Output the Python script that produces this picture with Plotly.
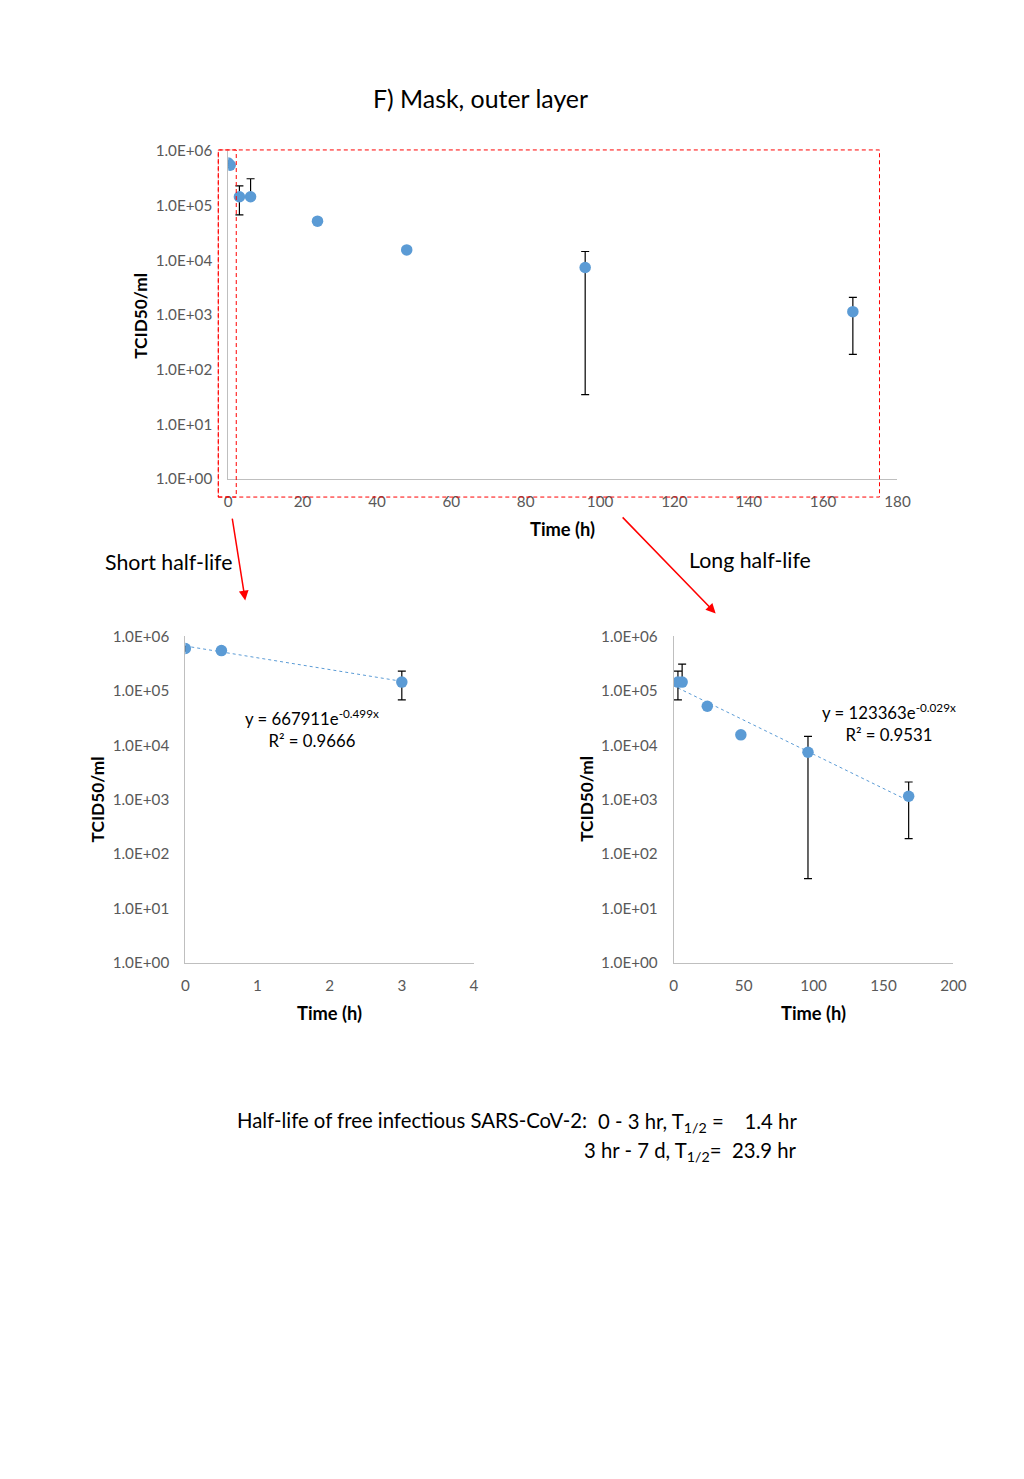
import numpy as np
import plotly.graph_objects as go

# figure size (page never scrolls) and the measured page->picture transform,
# so that every position below can be given in reference-picture pixels
PAD = 8
W, H = 990, 1400
S, OX, OY = 0.984, 3.6, 11.6

# data
time_all = [0, 0.5, 3, 6, 24, 48, 96, 168]
titer_all = [6.0e5, 5.5e5, 1.45e5, 1.45e5, 5.2e4, 1.55e4, 7.4e3, 1.15e3]
upper_all = [6.6e5, 5.9e5, 2.3e5, 3.1e5, 5.4e4, 1.7e4, 1.45e4, 2.1e3]
lower_all = [5.4e5, 5.0e5, 6.8e4, 1.3e5, 5.0e4, 1.4e4, 35, 190]

short_idx = [0, 1, 2]
long_idx = [2, 3, 4, 5, 6, 7]

# exponential fits shown on the chart
short_fit = dict(a=667911, b=-0.499, r2=0.9666, x0=0, x1=3)
long_fit = dict(a=123363, b=-0.029, r2=0.9531, x0=3, x1=168)

ytick_vals = [1, 10, 100, 1e3, 1e4, 1e5, 1e6]
ytick_text = ["1.0E+00", "1.0E+01", "1.0E+02", "1.0E+03", "1.0E+04", "1.0E+05", "1.0E+06"]

BLUE = "#5B9BD5"
GRAY = "#595959"
FONT = "Lato"


def px_x(p):
    return ((p - OX) / S - PAD) / W


def px_y(p):
    return 1 - ((p - OY) / S - PAD) / H


def fs(size):
    return size / S


def points(idx, xa, ya):
    t = [time_all[i] for i in idx]
    v = [titer_all[i] for i in idx]
    up = [upper_all[i] - titer_all[i] for i in idx]
    dn = [titer_all[i] - lower_all[i] for i in idx]
    return go.Scatter(
        x=t, y=v, mode="markers", xaxis=xa, yaxis=ya, showlegend=False,
        marker=dict(color=BLUE, size=11.5),
        error_y=dict(type="data", symmetric=False, array=up, arrayminus=dn,
                     color="black", thickness=1.2, width=4),
    )


def fitline(f, xa, ya):
    xs = np.array([f["x0"], f["x1"]], dtype=float)
    ys = f["a"] * np.exp(f["b"] * xs)
    return go.Scatter(x=xs, y=ys, mode="lines", xaxis=xa, yaxis=ya, showlegend=False,
                      line=dict(color=BLUE, width=1, dash="dot"))


fig = go.Figure()
fig.add_trace(points(list(range(len(time_all))), "x", "y"))
fig.add_trace(fitline(short_fit, "x2", "y2"))
fig.add_trace(points(short_idx, "x2", "y2"))
fig.add_trace(fitline(long_fit, "x3", "y3"))
fig.add_trace(points(long_idx, "x3", "y3"))

xax = dict(showgrid=False, zeroline=False, showline=True, linecolor="#BFBFBF", linewidth=1,
           ticks="", tickfont=dict(family=FONT, size=fs(15), color=GRAY), ticklabelstandoff=9)
yax = dict(type="log", range=[0, 6], showgrid=False, zeroline=False, showline=True,
           linecolor="#BFBFBF", linewidth=1, ticks="", tickvals=ytick_vals, ticktext=ytick_text,
           tickfont=dict(family=FONT, size=fs(15), color=GRAY), ticklabelstandoff=12)

fig.update_layout(
    width=W, height=H, margin=dict(l=0, r=0, t=0, b=0),
    paper_bgcolor="white", plot_bgcolor="white",
    xaxis=dict(xax, domain=[px_x(228), px_x(898)], range=[0, 180], dtick=20, anchor="y"),
    yaxis=dict(yax, domain=[px_y(479), px_y(152)], anchor="x"),
    xaxis2=dict(xax, domain=[px_x(185), px_x(474)], range=[0, 4], dtick=1, anchor="y2"),
    yaxis2=dict(yax, domain=[px_y(961), px_y(636)], anchor="x2"),
    xaxis3=dict(xax, domain=[px_x(674), px_x(954)], range=[0, 200], dtick=50, anchor="y3"),
    yaxis3=dict(yax, domain=[px_y(961), px_y(636)], anchor="x3"),
)


def label(text, x, y, size=16, bold=False, angle=0, xanchor="center", color="black"):
    if bold:
        text = "<b>" + text + "</b>"
    fig.add_annotation(text=text, x=px_x(x), y=px_y(y), xref="paper", yref="paper",
                       showarrow=False, textangle=angle, xanchor=xanchor, yanchor="middle",
                       font=dict(family=FONT, size=fs(size), color=color))


# titles and axis titles
label("F) Mask, outer layer", 481, 99, size=24.5)
label("TCID50/ml", 140, 316, size=17, bold=True, angle=-90)
label("Time (h)", 563, 529, size=18, bold=True)
label("TCID50/ml", 97, 798, size=17, bold=True, angle=-90)
label("Time (h)", 329, 1011, size=18, bold=True)
label("TCID50/ml", 586, 798, size=17, bold=True, angle=-90)
label("Time (h)", 814, 1011, size=18, bold=True)
label("Short half-life", 168, 562, size=21)
label("Long half-life", 750, 560, size=21)

# fit equations
for f, cx, cy in [(short_fit, 312, 728), (long_fit, 890, 722)]:
    label("y = %de<sup>%gx</sup><br>R² = %.4f" % (f["a"], f["b"], f["r2"]), cx, cy, size=16.5)

# half-life summary
label("Half-life of free infectious SARS-CoV-2:", 589, 1118, size=20, xanchor="right")
label("0 - 3 hr, T<sub>1/2</sub> =\u00a0\u00a0\u00a0\u00a01.4 hr", 799, 1120, size=20, xanchor="right")
label("3 hr - 7 d, T<sub>1/2</sub>=\u00a0\u00a023.9 hr", 799, 1149, size=20, xanchor="right")

# red dashed zoom boxes
for x0, x1 in [(218, 880), (218, 236)]:
    fig.add_shape(type="rect", xref="paper", yref="paper",
                  x0=px_x(x0), x1=px_x(x1), y0=px_y(497), y1=px_y(151),
                  line=dict(color="red", width=1, dash="4px,3px"))

# red arrows
for hx, hy, tx, ty in [(245, 600, 232, 518), (716, 613, 623, 517)]:
    fig.add_annotation(x=px_x(hx), y=px_y(hy), xref="paper", yref="paper", text="",
                       showarrow=True, ax=(tx - hx) / S, ay=(ty - hy) / S, arrowcolor="red",
                       arrowwidth=1.5, arrowhead=2, arrowsize=1.3)

fig.write_html("out.html")
